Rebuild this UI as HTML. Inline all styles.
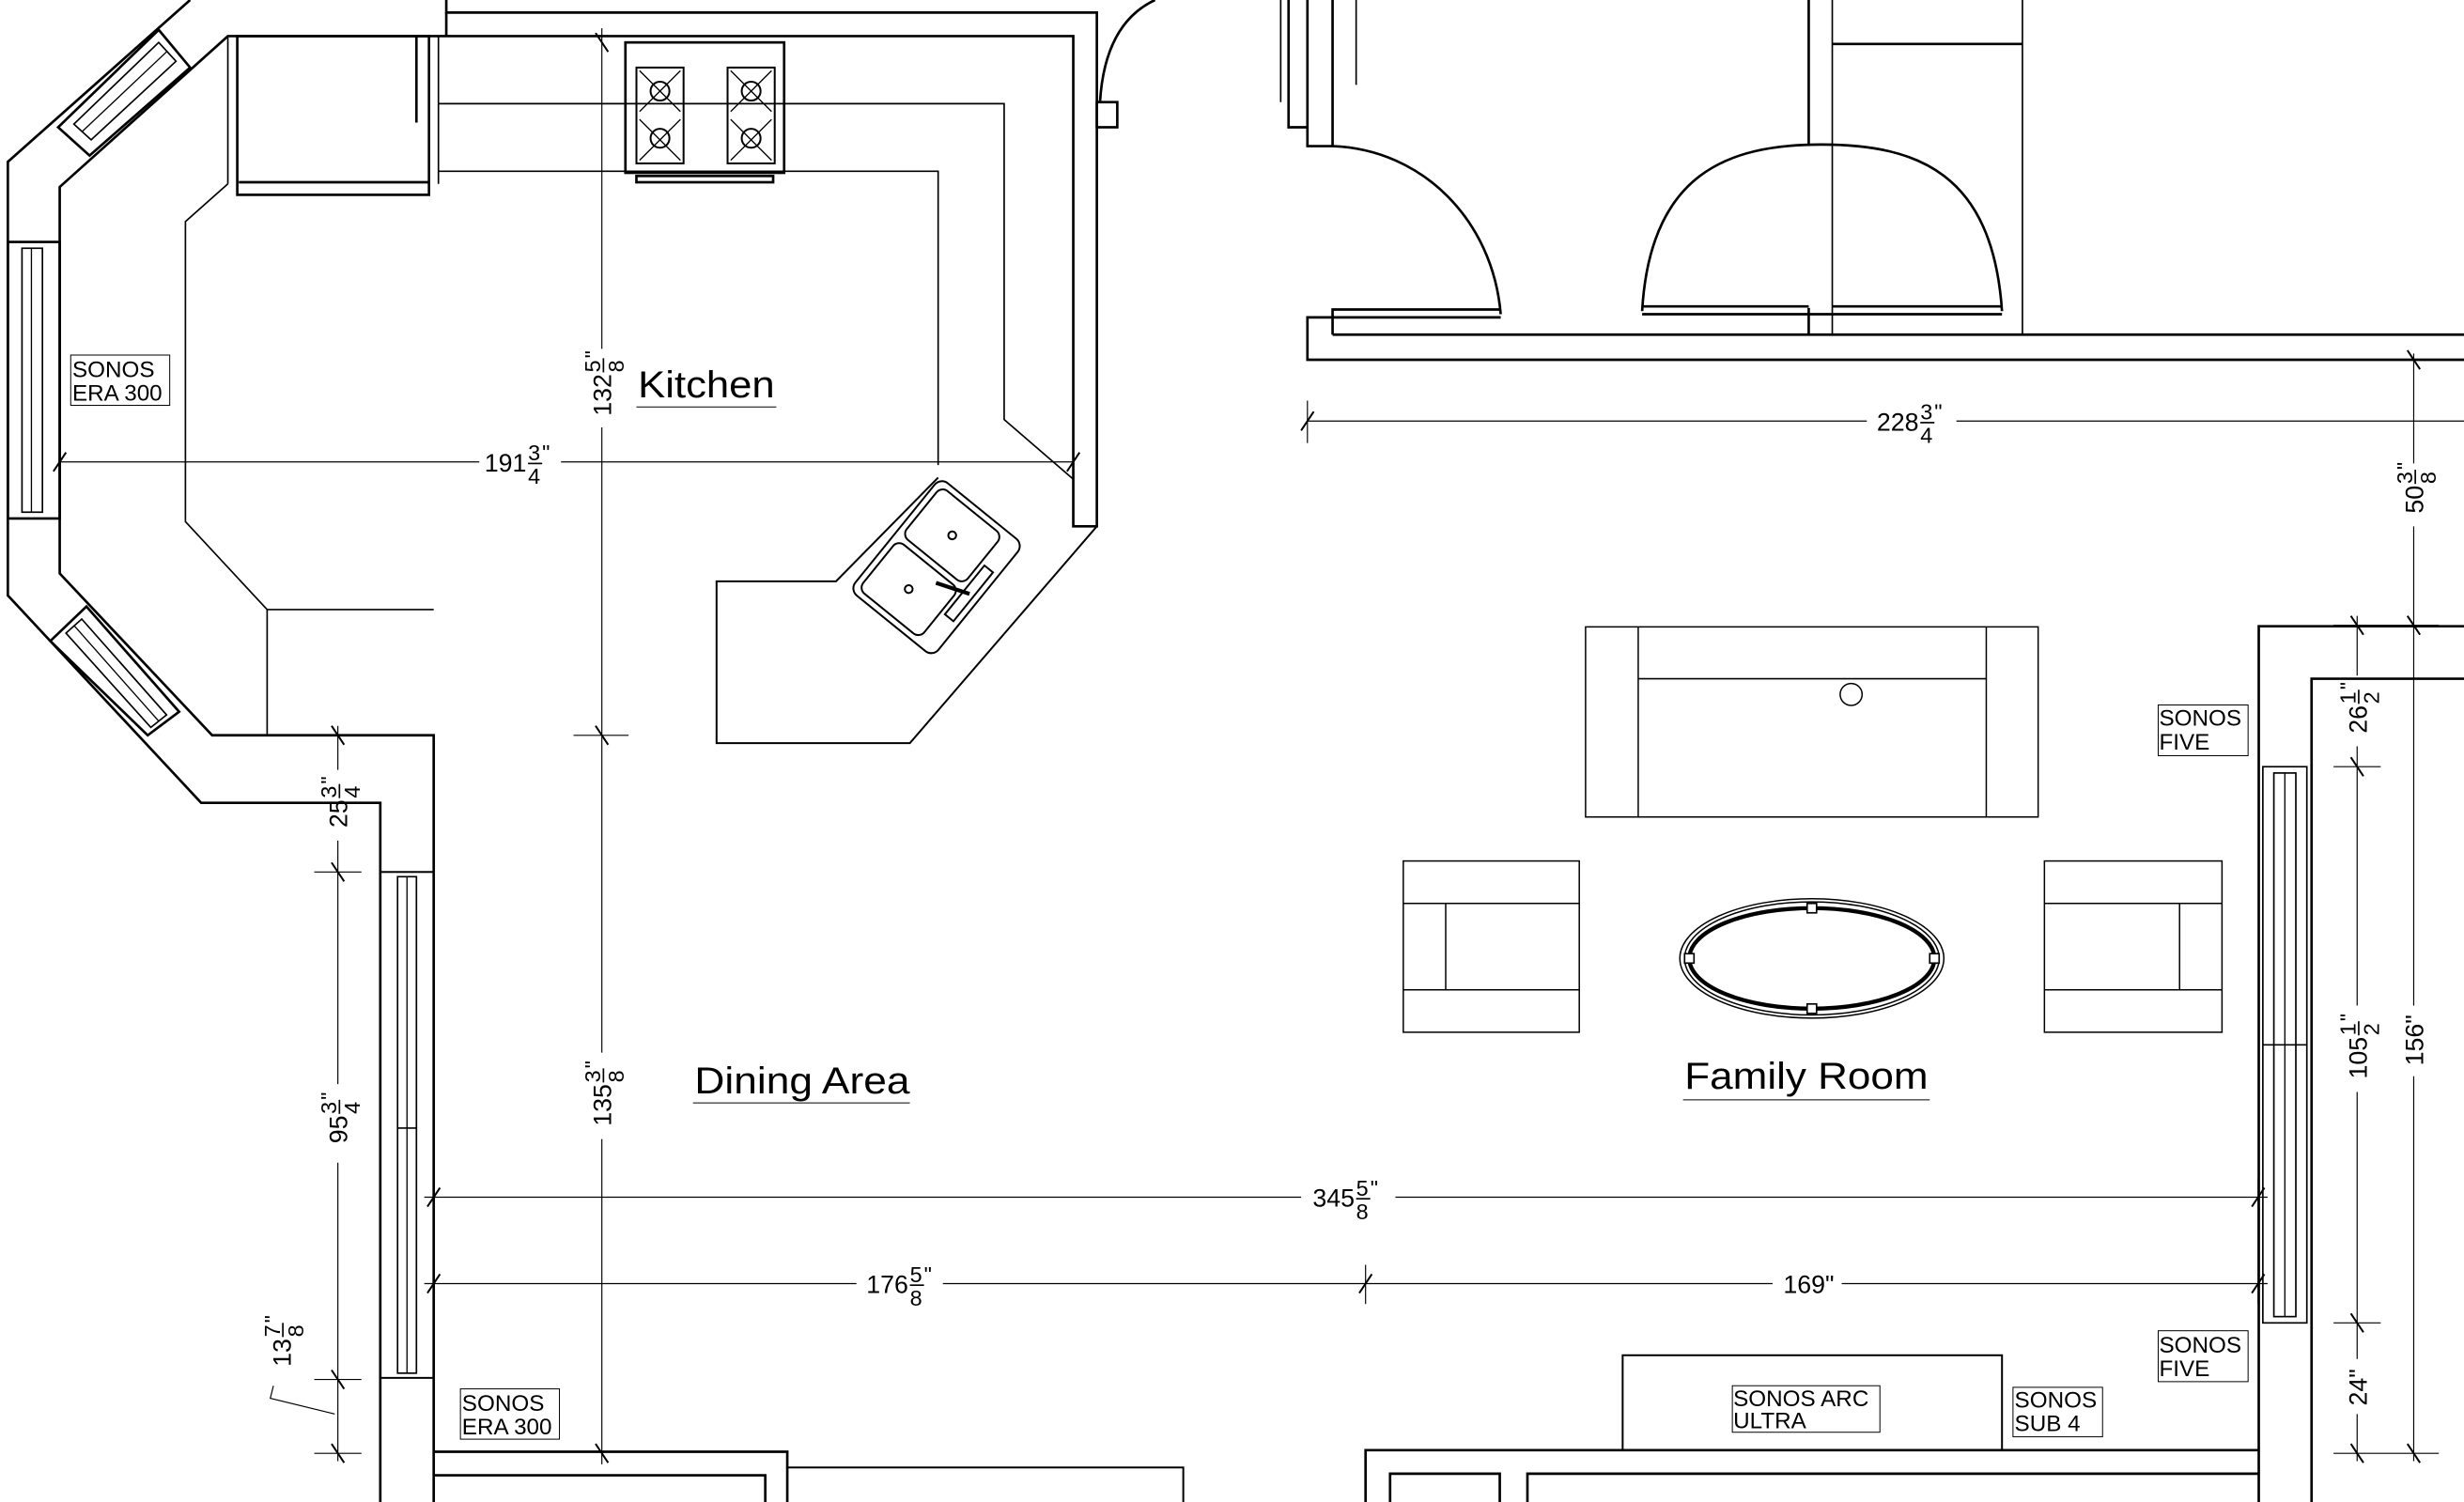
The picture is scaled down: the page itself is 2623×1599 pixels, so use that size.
<!DOCTYPE html>
<html><head><meta charset="utf-8"><style>
html,body{margin:0;padding:0;background:#fff;}
svg{display:block;}
text{font-family:"Liberation Sans",sans-serif;fill:#000;}
</style></head><body>
<svg width="2623" height="1599" viewBox="0 0 1568 956" preserveAspectRatio="none" xmlns="http://www.w3.org/2000/svg">
<rect width="1568" height="956" fill="#fff"/>
<g fill="none" stroke="#000" stroke-width="1.6">
<polyline points="121,0 5,103 5,379 128,511 242,511 242,956"/>
<polyline points="284,0 284,8 698,8 698,335 683,335 683,23 145,23 38,119 38,365 135,468 276,468 276,956"/>
<line x1="284" y1="8" x2="284" y2="23"/>
<polygon points="101,19 121,43 57,99 37,81"/>
<polygon points="101,27 112,39 58,89 47,79" stroke-width="1"/>
<line x1="106" y1="33" x2="52" y2="84" stroke-width="0.8"/>
<rect x="5" y="154" width="33" height="176"/>
<rect x="14" y="158" width="13" height="168" stroke-width="1"/>
<line x1="20" y1="158" x2="20" y2="326" stroke-width="0.8"/>
<polygon points="32,408 55,386 114,453 94,468"/>
<polygon points="42,403 52,394 106,455 96,463" stroke-width="1"/>
<line x1="47" y1="398" x2="101" y2="459" stroke-width="0.8"/>
<rect x="151" y="23" width="122" height="101"/>
<line x1="152" y1="116" x2="273" y2="116"/>
<line x1="265" y1="23" x2="265" y2="78"/>
<line x1="145" y1="23" x2="145" y2="117" stroke-width="1"/>
<line x1="279" y1="23" x2="279" y2="117" stroke-width="1"/>
<polyline stroke-width="1" points="279,66 639,66 639,267 683,305"/>
<polyline stroke-width="1" points="279,109 597,109 597,296"/>
<polyline stroke-width="1" points="145,117 118,141 118,332 170,388 276,388"/>
<line stroke-width="1" x1="170" y1="388" x2="170" y2="468"/>
<polyline stroke-width="1.2" points="597,304 532,370 456,370 456,473 579,473 698,335"/>
<g transform="translate(596,361) rotate(-51)" stroke-width="1.2">
<rect x="-46" y="-34" width="92" height="68" rx="6"/>
<rect x="-42" y="-30" width="40" height="50" rx="5"/>
<rect x="2" y="-30" width="40" height="50" rx="5"/>
<circle cx="-22" cy="-5" r="2.5"/><circle cx="22" cy="-5" r="2.5"/>
<rect x="-20" y="23" width="40" height="7"/>
<line x1="0" y1="27" x2="-8" y2="6" stroke-width="2.5"/>
</g>
<rect x="398" y="27" width="101" height="83"/>
<rect x="405" y="112" width="87" height="4"/>
<g stroke-width="1.2">
<rect x="405" y="43" width="30" height="61"/><rect x="463" y="43" width="30" height="61"/>
<circle cx="420" cy="58" r="6"/><circle cx="420" cy="88" r="6"/>
<circle cx="478" cy="58" r="6"/><circle cx="478" cy="88" r="6"/>
<path d="M407,45 L433,71 M433,45 L407,71 M407,76 L433,102 M433,76 L407,102 M465,45 L491,71 M491,45 L465,71 M465,76 L491,102 M491,76 L465,102" stroke-width="0.8"/>
</g>
<rect x="698" y="65" width="13" height="16"/>
<path d="M700,65 Q703,15 735,0"/>
<line x1="815" y1="0" x2="815" y2="65" stroke-width="1"/>
<polyline points="820,0 820,81 832,81"/>
<polyline points="832,0 832,93 848,93 848,0"/>
<line x1="863" y1="0" x2="863" y2="54" stroke-width="1"/>
<path d="M848,93 C905,95 950,140 955,200"/>
<polyline points="955,197 848,197 848,213"/>
<polyline points="955,202 832,202 832,229 1568,229"/>
<line x1="848" y1="213" x2="1568" y2="213"/>
<line x1="1151" y1="0" x2="1151" y2="92"/>
<line x1="1166" y1="0" x2="1166" y2="213" stroke-width="1"/>
<line x1="1151" y1="196" x2="1151" y2="213"/>
<path d="M1045,198 C1050,110 1100,92 1159,92 C1220,92 1268,110 1274,198"/>
<line x1="1045" y1="195" x2="1151" y2="195"/><line x1="1045" y1="200" x2="1274" y2="200"/>
<line x1="1166" y1="195" x2="1274" y2="195"/>
<line x1="1166" y1="28" x2="1287" y2="28"/>
<line x1="1287" y1="0" x2="1287" y2="213" stroke-width="1"/>
<polyline points="1568,398.6 1437.4,398.6 1437.4,956"/>
<polyline points="1568,432 1471,432 1471,956"/>
<rect x="1440" y="488" width="28" height="354" stroke-width="1"/>
<rect x="1447" y="492" width="14" height="346" stroke-width="1"/>
<line x1="1454" y1="492" x2="1454" y2="838" stroke-width="0.8"/>
<line x1="1440" y1="665" x2="1468" y2="665" stroke-width="1"/>
<rect x="242" y="555" width="34" height="322" stroke-width="1.2"/>
<rect x="253" y="558" width="12" height="316" stroke-width="1"/>
<line x1="259" y1="558" x2="259" y2="874" stroke-width="0.8"/>
<line x1="253" y1="718" x2="265" y2="718" stroke-width="1"/>
<polyline points="276,924 501,924 501,956"/>
<polyline points="276,939 487,939 487,956"/>
<polyline points="501,934 753,934 753,956" stroke-width="1.2"/>
<polyline points="869,956 869,923 1437,923"/>
<polyline points="884.6,956 884.6,938 954.4,938 954.4,956"/>
<polyline points="972,956 972,938 1437,938"/>
<rect x="1032.6" y="862.6" width="241.4" height="60.4" stroke-width="1.2"/>
<g stroke-width="0.9">
<rect x="1009" y="399" width="288" height="121"/>
<line x1="1042.5" y1="399" x2="1042.5" y2="520"/><line x1="1264" y1="399" x2="1264" y2="520"/>
<line x1="1042.5" y1="432" x2="1264" y2="432"/>
<circle cx="1178" cy="442" r="7"/>
<rect x="893" y="548" width="112" height="109"/>
<line x1="893" y1="575" x2="1005" y2="575"/><line x1="893" y1="630" x2="1005" y2="630"/><line x1="920" y1="575" x2="920" y2="630"/>
<rect x="1301" y="548" width="113" height="109"/>
<line x1="1301" y1="575" x2="1414" y2="575"/><line x1="1301" y1="630" x2="1414" y2="630"/><line x1="1387" y1="575" x2="1387" y2="630"/>
<ellipse cx="1153" cy="610" rx="84" ry="38"/>
<ellipse cx="1153" cy="610" rx="81" ry="36"/>
</g>
<ellipse cx="1153" cy="610" rx="78" ry="32" stroke-width="2.6"/>
<g fill="#fff" stroke-width="1"><rect x="1150" y="575" width="6" height="6"/><rect x="1150" y="639" width="6" height="6"/><rect x="1072" y="607" width="6" height="6"/><rect x="1228" y="607" width="6" height="6"/></g>
</g>
<g fill="none" stroke="#000" stroke-width="0.7">
<path d="M38,294 H305 M357,294 H683"/>
<path d="M383,18 V222 M383,272 V670 M383,725 V932"/>
<path d="M215,462 V490 M215,535 V690 M215,740 V930"/>
<path d="M832,268 H1188 M1245,268 H1568"/>
<path d="M1536,225 V295 M1536,335 V640 M1536,685 V930"/>
<path d="M1500,392 V430 M1500,475 V640 M1500,695 V865 M1500,900 V930"/>
<path d="M270,762 H828 M888,762 H1443"/>
<path d="M270,817 H545 M600,817 H1128 M1172,817 H1443"/>
<path d="M365,468 H400 M200,555 H230 M200,878 H230 M200,925 H230 M1485,488 H1515 M1485,842 H1515 M1485,925 H1552 M1485,398 H1552"/>
<path d="M869,805 V830 M276,750 V830 M1437,750 V830 M832,255 V282"/>
<path d="M174,882 L172,890 L213,900"/>
</g>
<g stroke="#000" stroke-width="1.2">
<path d="M34,300 l8,-12 M679,300 l8,-12 M379,21 l8,12 M379,462 l8,12 M379,919 l8,12 M211,462 l8,12 M211,549 l8,12 M211,872 l8,12 M211,919 l8,12 M828,274 l8,-12 M1532,223 l8,12 M1496,392 l8,12 M1532,392 l8,12 M1496,482 l8,12 M1496,836 l8,12 M1496,919 l8,12 M1532,919 l8,12 M272,768 l8,-12 M1433,768 l8,-12 M272,823 l8,-12 M865,823 l8,-12 M1433,823 l8,-12"/>
</g>
<g font-size="16">
<g transform="translate(335,294)"><text x="0" y="6" text-anchor="end">191</text><text x="1" y="-1" font-size="14">3</text><text x="1" y="14" font-size="14">4</text><line x1="1" y1="1" x2="10" y2="1" stroke="#000" stroke-width="1"/><text x="10" y="-1" font-size="14">"</text></g>
<g transform="translate(383,238) rotate(-90)"><text x="0" y="6" text-anchor="end">132</text><text x="1" y="-1" font-size="14">5</text><text x="1" y="14" font-size="14">8</text><line x1="1" y1="1" x2="10" y2="1" stroke="#000" stroke-width="1"/><text x="10" y="-1" font-size="14">"</text></g>
<g transform="translate(383,690) rotate(-90)"><text x="0" y="6" text-anchor="end">135</text><text x="1" y="-1" font-size="14">3</text><text x="1" y="14" font-size="14">8</text><line x1="1" y1="1" x2="10" y2="1" stroke="#000" stroke-width="1"/><text x="10" y="-1" font-size="14">"</text></g>
<g transform="translate(215,509) rotate(-90)"><text x="0" y="6" text-anchor="end">25</text><text x="1" y="-1" font-size="14">3</text><text x="1" y="14" font-size="14">4</text><line x1="1" y1="1" x2="10" y2="1" stroke="#000" stroke-width="1"/><text x="10" y="-1" font-size="14">"</text></g>
<g transform="translate(215,710) rotate(-90)"><text x="0" y="6" text-anchor="end">95</text><text x="1" y="-1" font-size="14">3</text><text x="1" y="14" font-size="14">4</text><line x1="1" y1="1" x2="10" y2="1" stroke="#000" stroke-width="1"/><text x="10" y="-1" font-size="14">"</text></g>
<g transform="translate(179,852) rotate(-90)"><text x="0" y="6" text-anchor="end">13</text><text x="1" y="-1" font-size="14">7</text><text x="1" y="14" font-size="14">8</text><line x1="1" y1="1" x2="10" y2="1" stroke="#000" stroke-width="1"/><text x="10" y="-1" font-size="14">"</text></g>
<g transform="translate(1221,268)"><text x="0" y="6" text-anchor="end">228</text><text x="1" y="-1" font-size="14">3</text><text x="1" y="14" font-size="14">4</text><line x1="1" y1="1" x2="10" y2="1" stroke="#000" stroke-width="1"/><text x="10" y="-1" font-size="14">"</text></g>
<g transform="translate(1536,309) rotate(-90)"><text x="0" y="6" text-anchor="end">50</text><text x="1" y="-1" font-size="14">3</text><text x="1" y="14" font-size="14">8</text><line x1="1" y1="1" x2="10" y2="1" stroke="#000" stroke-width="1"/><text x="10" y="-1" font-size="14">"</text></g>
<g transform="translate(1500,449) rotate(-90)"><text x="0" y="6" text-anchor="end">26</text><text x="1" y="-1" font-size="14">1</text><text x="1" y="14" font-size="14">2</text><line x1="1" y1="1" x2="10" y2="1" stroke="#000" stroke-width="1"/><text x="10" y="-1" font-size="14">"</text></g>
<g transform="translate(1500,660) rotate(-90)"><text x="0" y="6" text-anchor="end">105</text><text x="1" y="-1" font-size="14">1</text><text x="1" y="14" font-size="14">2</text><line x1="1" y1="1" x2="10" y2="1" stroke="#000" stroke-width="1"/><text x="10" y="-1" font-size="14">"</text></g>
<g transform="translate(862,762)"><text x="0" y="6" text-anchor="end">345</text><text x="1" y="-1" font-size="14">5</text><text x="1" y="14" font-size="14">8</text><line x1="1" y1="1" x2="10" y2="1" stroke="#000" stroke-width="1"/><text x="10" y="-1" font-size="14">"</text></g>
<g transform="translate(578,817)"><text x="0" y="6" text-anchor="end">176</text><text x="1" y="-1" font-size="14">5</text><text x="1" y="14" font-size="14">8</text><line x1="1" y1="1" x2="10" y2="1" stroke="#000" stroke-width="1"/><text x="10" y="-1" font-size="14">"</text></g>
<text x="1151" y="823" text-anchor="middle">169"</text>
<text transform="translate(1542,662) rotate(-90)" text-anchor="middle">156"</text>
<text transform="translate(1506,883) rotate(-90)" text-anchor="middle">24"</text>
</g>
<g font-size="24">
<text x="406" y="253" textLength="87" lengthAdjust="spacingAndGlyphs">Kitchen</text><line x1="405" y1="259" x2="494" y2="259" stroke="#000" stroke-width="0.6"/>
<text x="442" y="696" textLength="137" lengthAdjust="spacingAndGlyphs">Dining Area</text><line x1="441" y1="702" x2="579" y2="702" stroke="#000" stroke-width="0.6"/>
<text x="1072" y="693" textLength="155" lengthAdjust="spacingAndGlyphs">Family Room</text><line x1="1071" y1="700" x2="1228" y2="700" stroke="#000" stroke-width="0.6"/>
</g>
<g font-size="14.5">
<rect x="45" y="226" width="63" height="32" fill="none" stroke="#000" stroke-width="0.6"/><text x="46" y="240">SONOS</text><text x="46" y="255">ERA 300</text>
<rect x="293" y="884" width="63" height="32" fill="none" stroke="#000" stroke-width="0.6"/><text x="294" y="898">SONOS</text><text x="294" y="913">ERA 300</text>
<rect x="1373.4" y="448.7" width="57.2" height="32.3" fill="none" stroke="#000" stroke-width="0.6"/><text x="1374" y="462">SONOS</text><text x="1374" y="477">FIVE</text>
<rect x="1373.4" y="847" width="57.2" height="32.4" fill="none" stroke="#000" stroke-width="0.6"/><text x="1374" y="861">SONOS</text><text x="1374" y="876">FIVE</text>
<rect x="1102.4" y="882" width="93.9" height="29.6" fill="none" stroke="#000" stroke-width="0.6"/><text x="1103" y="895">SONOS ARC</text><text x="1103" y="909">ULTRA</text>
<rect x="1281" y="883" width="57" height="31.5" fill="none" stroke="#000" stroke-width="0.6"/><text x="1282" y="896">SONOS</text><text x="1282" y="911">SUB 4</text>
</g>
</svg>
</body></html>
